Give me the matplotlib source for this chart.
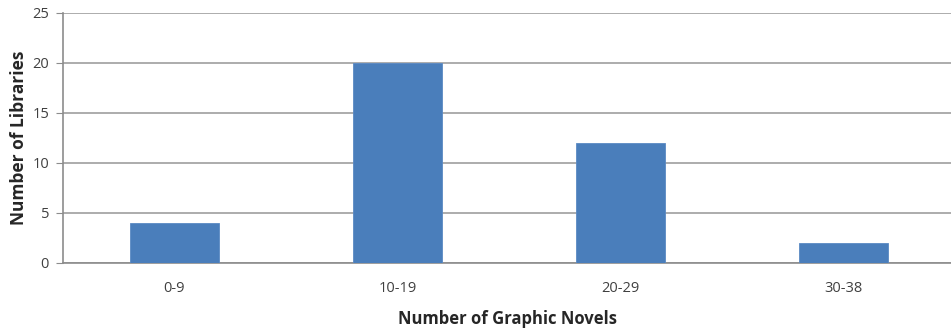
import matplotlib
matplotlib.use("Agg")
import matplotlib.pyplot as plt

categories = ["0-9", "10-19", "20-29", "30-38"]
libraries = [4, 20, 12, 2]
yticks = [0, 5, 10, 15, 20, 25]

plt.rcParams['font.family'] = ['Open Sans', 'DejaVu Sans']

fig = plt.figure(figsize=(9.51, 3.32), dpi=100)
ax = fig.add_axes([63/951, 69/332, (951-63)/951, 250/332])

x = list(range(len(categories)))
ax.bar(x, libraries, width=0.395, color='#4a7ebb', edgecolor='#5b8ac4', linewidth=0.6, zorder=3)

ax.set_xlim(-0.5, 3.5 - 4/223)
ax.set_ylim(0, 25)
ax.set_yticks(yticks)
ax.set_xticks(x)
ax.set_xticklabels(categories)
ax.grid(axis='y', color='#a6a6a6', linewidth=1.3, zorder=0)
for s in ['top', 'right']:
    ax.spines[s].set_visible(False)
for s in ['left', 'bottom']:
    ax.spines[s].set_color('#8c8c8c')
    ax.spines[s].set_linewidth(1.2)
ax.tick_params(axis='y', length=5, color='#8c8c8c', labelsize=10.5, labelcolor='#404040', pad=5)
ax.tick_params(axis='x', length=0, labelsize=10.5, labelcolor='#404040', pad=13)
ax.set_xlabel("Number of Graphic Novels", fontsize=12, fontweight='bold', color='#262626', labelpad=10)
ax.set_ylabel("Number of Libraries", fontsize=12.5, fontweight='bold', color='#262626', labelpad=3)

fig.savefig("out.png", dpi=100)
